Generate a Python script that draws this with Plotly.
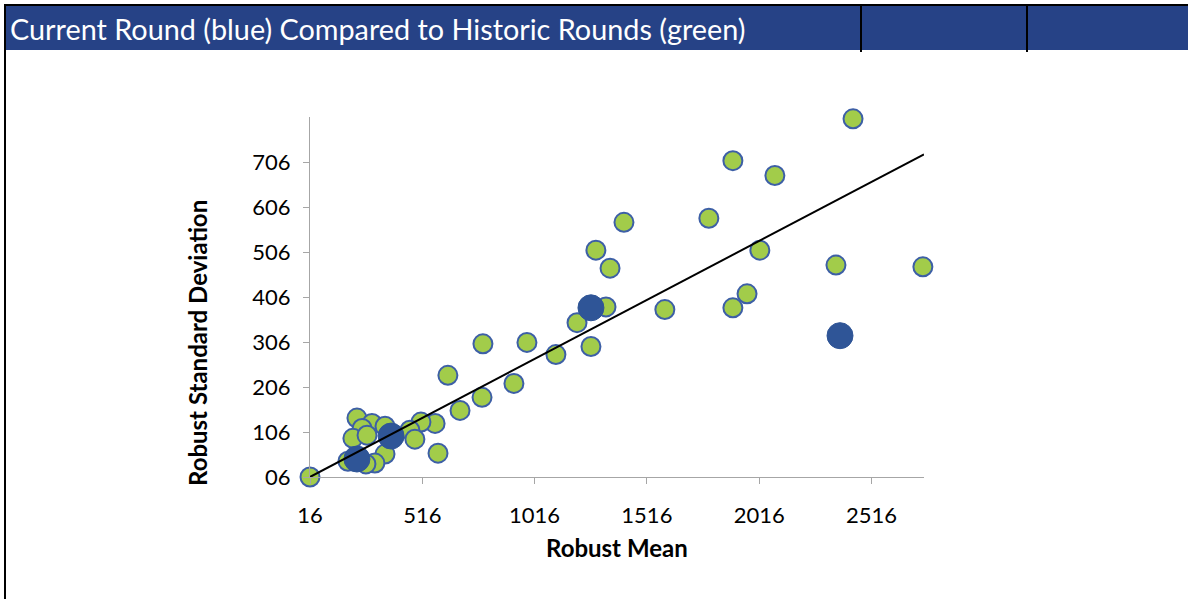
import plotly.graph_objects as go

# historic rounds (green)
green_x = [16, 2434, 1899, 2086, 1792, 1414, 1289, 2019, 1352, 2358, 2745, 1962, 1899,
           1596, 1334, 1205, 1267, 982, 786, 1111, 630, 924, 782, 684, 573, 510, 461,
           483, 586, 350, 225, 292, 350, 248, 207, 270, 185, 305, 265]
green_y = [6, 802, 709, 676, 581, 572, 510, 510, 470, 477, 473, 413, 382,
           378, 384, 349, 296, 305, 302, 278, 232, 214, 183, 154, 125, 128, 110,
           90, 59, 57, 137, 125, 119, 114, 92, 99, 41, 37, 35]

# current round (blue)
blue_x = [377, 225, 1267, 2376]
blue_y = [97, 46, 382, 320]

# trend line ends
trend_x = [16, 2750]
trend_y = [6, 723]

x_ticks = [16, 516, 1016, 1516, 2016, 2516]
x_labels = ["16", "516", "1016", "1516", "2016", "2516"]
y_ticks = [6, 106, 206, 306, 406, 506, 606, 706]
y_labels = ["06", "106", "206", "306", "406", "506", "606", "706"]

W, H = 1188, 599
L, R, T, B = 310, 264, 117, 122
pw, ph = W - L - R, H - T - B

def px(x):
    return (x - L) / pw

def py(y):
    return (H - B - y) / ph

fig = go.Figure()
fig.add_trace(go.Scatter(x=green_x, y=green_y, mode="markers", cliponaxis=False,
                         marker=dict(size=19, color="#A2CC4A",
                                     line=dict(color="#3D5FA6", width=2)),
                         showlegend=False))
fig.add_trace(go.Scatter(x=blue_x, y=blue_y, mode="markers", cliponaxis=False,
                         marker=dict(size=26, color="#2F5597",
                                     line=dict(color="#2F5597", width=1)),
                         showlegend=False))
fig.add_trace(go.Scatter(x=trend_x, y=trend_y, mode="lines", cliponaxis=False,
                         line=dict(color="black", width=2), showlegend=False))

fig.update_layout(
    width=W, height=H,
    margin=dict(l=L, r=R, t=T, b=B),
    plot_bgcolor="white", paper_bgcolor="white",
    font=dict(family="Lato", color="black", size=22),
)
fig.update_xaxes(range=[16, 2750], tickvals=x_ticks, ticktext=x_labels,
                 showgrid=False, zeroline=False, showline=True, linecolor="#A6A6A6",
                 linewidth=1, ticks="outside", ticklen=6, tickcolor="#A6A6A6",
                 ticklabelstandoff=13)
fig.update_yaxes(range=[6, 806], tickvals=y_ticks, ticktext=y_labels,
                 showgrid=False, zeroline=False, showline=True, linecolor="#A6A6A6",
                 linewidth=1, ticks="outside", ticklen=6, tickcolor="#A6A6A6",
                 ticklabelstandoff=8)

fig.add_annotation(text="<b>Robust Mean</b>", xref="paper", yref="paper", x=0.5, y=py(547),
                   showarrow=False, font=dict(size=24), xanchor="center", yanchor="middle")
fig.add_annotation(text="<b>Robust Standard Deviation</b>", xref="paper", yref="paper",
                   x=px(197), y=py(343), textangle=-90, showarrow=False, font=dict(size=24),
                   xanchor="center", yanchor="middle")

# header bar and borders
fig.add_shape(type="rect", xref="paper", yref="paper", x0=px(6), x1=px(W), y0=py(50), y1=py(6),
              fillcolor="#264286", line_width=0, layer="below")
fig.add_shape(type="line", xref="paper", yref="paper", x0=px(4), x1=px(W), y0=py(5), y1=py(5),
              line=dict(color="black", width=2))
fig.add_shape(type="line", xref="paper", yref="paper", x0=px(5), x1=px(5), y0=py(4), y1=py(H),
              line=dict(color="black", width=2))
for vx in [861, 1027]:
    fig.add_shape(type="line", xref="paper", yref="paper", x0=px(vx), x1=px(vx), y0=py(5), y1=py(52),
                  line=dict(color="black", width=2))
fig.add_annotation(text="Current Round (blue) Compared to Historic Rounds (green)",
                   xref="paper", yref="paper", x=px(8), y=py(29), xanchor="left", yanchor="middle",
                   showarrow=False, font=dict(size=28.8, color="white"))

# page has a default 8px body margin; drop it so the figure sits at 0,0
fig.write_html("out.html", config={"displayModeBar": False},
               post_script="document.body.style.margin='0';")
